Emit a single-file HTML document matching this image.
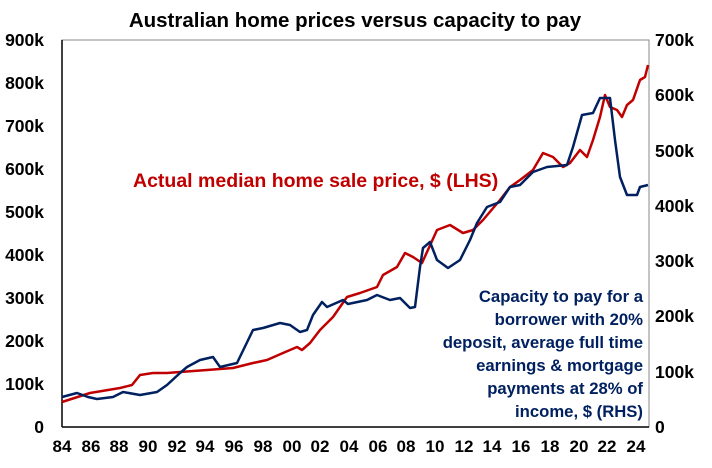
<!DOCTYPE html><html><head><style>body{margin:0;background:#fff}svg text{font-family:"Liberation Sans",Arial,sans-serif;font-weight:bold}</style></head><body>
<svg width="712" height="463" xmlns="http://www.w3.org/2000/svg">
<text x="355" y="27" font-size="20.5" text-anchor="middle">Australian home prices versus capacity to pay</text>
<rect x="62" y="40" width="587" height="387" fill="none" stroke="#888" stroke-width="1"/>
<line x1="62" y1="40" x2="62" y2="427" stroke="#000" stroke-width="1.5"/>
<line x1="62" y1="427" x2="649" y2="427" stroke="#000" stroke-width="1.5"/>
<g font-size="17.5" text-anchor="end">
<text x="44" y="46">900k</text><text x="44" y="89">800k</text><text x="44" y="132">700k</text><text x="44" y="175">600k</text><text x="44" y="218">500k</text><text x="44" y="261">400k</text><text x="44" y="304">300k</text><text x="44" y="347">200k</text><text x="44" y="390">100k</text><text x="44" y="433">0</text></g>
<g font-size="17.5">
<text x="655" y="46">700k</text><text x="655" y="101">600k</text><text x="655" y="157">500k</text><text x="655" y="212">400k</text><text x="655" y="267">300k</text><text x="655" y="322">200k</text><text x="655" y="378">100k</text><text x="655" y="433">0</text></g>
<g font-size="17" text-anchor="middle">
<text x="62" y="452">84</text><text x="91" y="452">86</text><text x="119" y="452">88</text><text x="148" y="452">90</text><text x="177" y="452">92</text><text x="205" y="452">94</text><text x="234" y="452">96</text><text x="263" y="452">98</text><text x="292" y="452">00</text><text x="320" y="452">02</text><text x="349" y="452">04</text><text x="378" y="452">06</text><text x="406" y="452">08</text><text x="435" y="452">10</text><text x="464" y="452">12</text><text x="492" y="452">14</text><text x="521" y="452">16</text><text x="550" y="452">18</text><text x="579" y="452">20</text><text x="607" y="452">22</text><text x="636" y="452">24</text></g>
<polyline fill="none" stroke="#c00000" stroke-width="2.5" stroke-linejoin="round" points="62,402 90,393 120,388 132,385 140,375 153,373 167,373 180,372 207,370 233,368 253,363 267,360 283,353 297,347 302,350 310,343 320,330 333,317 347,297 360,293 377,287 383,275 397,267 405,253 413,257 422,263 437,230 450,225 463,233 473,230 483,220 500,200 510,187 520,180 533,170 543,153 553,157 563,167 570,163 580,150 587,157 593,140 600,117 605,95 610,107 617,110 622,117 627,105 633,100 640,80 645,77 648,65"/>
<polyline fill="none" stroke="#002060" stroke-width="2.5" stroke-linejoin="round" points="62,397 77,393 88,397 97,399 113,397 123,392 140,395 157,392 167,385 180,373 187,367 200,360 213,357 220,367 237,363 253,330 263,328 280,323 290,325 300,332 307,330 313,315 322,302 327,307 343,300 348,304 367,300 377,295 390,300 400,298 410,308 415,307 420,267 423,248 430,242 437,260 448,268 460,260 470,240 477,223 487,207 500,202 510,187 520,185 533,172 547,167 567,165 573,147 582,115 593,113 600,98 610,98 615,140 620,177 627,195 637,195 640,187 648,185"/>
<text x="133" y="187" font-size="19.5" fill="#c00000">Actual median home sale price, $ (LHS)</text>
<g font-size="16.7" fill="#002060" text-anchor="end">
<text x="643" y="302">Capacity to pay for a</text><text x="643" y="325">borrower with 20%</text><text x="643" y="348">deposit, average full time</text><text x="643" y="371">earnings &amp; mortgage</text><text x="643" y="394">payments at 28% of</text><text x="643" y="417">income, $ (RHS)</text></g>
</svg></body></html>
